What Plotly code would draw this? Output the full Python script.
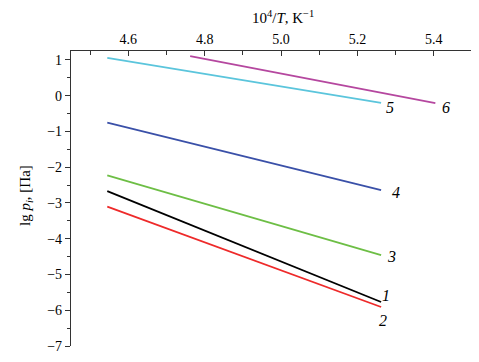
import plotly.graph_objects as go

# Data: each line given by its two end points (10^4/T, lg p_i)
labels = ["1", "2", "3", "4", "5", "6"]
x_start = [4.545, 4.545, 4.545, 4.545, 4.545, 4.762]
x_end = [5.262, 5.262, 5.262, 5.262, 5.262, 5.404]
y_start = [-2.67, -3.10, -2.23, -0.75, 1.06, 1.11]
y_end = [-5.77, -5.91, -4.46, -2.64, -0.20, -0.21]
colors = ["#000000", "#EE2A2A", "#6DBE45", "#3A50A8", "#5BC5DC", "#B5479F"]
# label offsets (pixels) relative to line end
label_dx = [5, 2, 10, 15, 9, 11]
label_dy = [7, -13, -1, -2, -5, -4]

x_ticks = [4.6, 4.8, 5.0, 5.2, 5.4]
y_ticks = [1, 0, -1, -2, -3, -4, -5, -6, -7]

FONT = "Times New Roman, Liberation Serif, serif"
tickfont = dict(family=FONT, size=14, color="black")

fig = go.Figure()
for i in range(len(labels)):
    fig.add_trace(go.Scatter(
        x=[x_start[i], x_end[i]], y=[y_start[i], y_end[i]],
        mode="lines", line=dict(color=colors[i], width=1.8),
        showlegend=False, hoverinfo="skip"))
    fig.add_annotation(x=x_end[i], y=y_end[i], text="<i>" + labels[i] + "</i>",
                       showarrow=False, xshift=label_dx[i], yshift=label_dy[i],
                       font=dict(family=FONT, size=16, color="black"),
                       xanchor="center", yanchor="middle")

# page body has an 8px margin; figure sized so the plot area lands at
# left 71, top 51, width 401, height 295 in the window
fig.update_layout(
    width=471, height=354,
    margin=dict(l=63, r=7, t=43, b=16),
    paper_bgcolor="white", plot_bgcolor="white",
    font=dict(family=FONT, size=14, color="black"),
    xaxis=dict(
        side="top", range=[4.45, 5.5], tickvals=x_ticks,
        ticktext=[f"{v:.1f}" for v in x_ticks], tickfont=tickfont,
        ticks="inside", ticklen=5, tickwidth=1, tickcolor="#333",
        minor=dict(dtick=0.1, tick0=4.5, ticks="inside", ticklen=4, tickcolor="#333", showgrid=False),
        showline=True, linecolor="#333", linewidth=1.2, showgrid=False, zeroline=False,
        mirror=False,
    ),
    yaxis=dict(
        range=[-7, 1.25], tickvals=y_ticks,
        ticktext=[("−" + str(abs(v))) if v < 0 else str(v) for v in y_ticks], tickfont=tickfont,
        ticks="outside", ticklen=5, tickwidth=1, tickcolor="#333",
        minor=dict(dtick=0.5, tick0=0, ticks="outside", ticklen=3, tickcolor="#333", showgrid=False),
        showline=True, linecolor="#333", linewidth=1.2, showgrid=False, zeroline=False,
    ),
)

fig.add_annotation(xref="paper", yref="paper", x=(283 - 71) / 401, y=1 + (51 - 17) / 295,
                   text="10<sup>4</sup>/<i>T</i>, K<sup>−1</sup>", showarrow=False,
                   xanchor="center", yanchor="middle", font=dict(family=FONT, size=15))
fig.add_annotation(xref="paper", yref="paper", x=-(71 - 26) / 401, y=(346 - 196) / 295,
                   text="lg <i>p<sub>i</sub></i>, [Па]", showarrow=False, textangle=-90,
                   xanchor="center", yanchor="middle", font=dict(family=FONT, size=15))

fig.write_html("out.html")
